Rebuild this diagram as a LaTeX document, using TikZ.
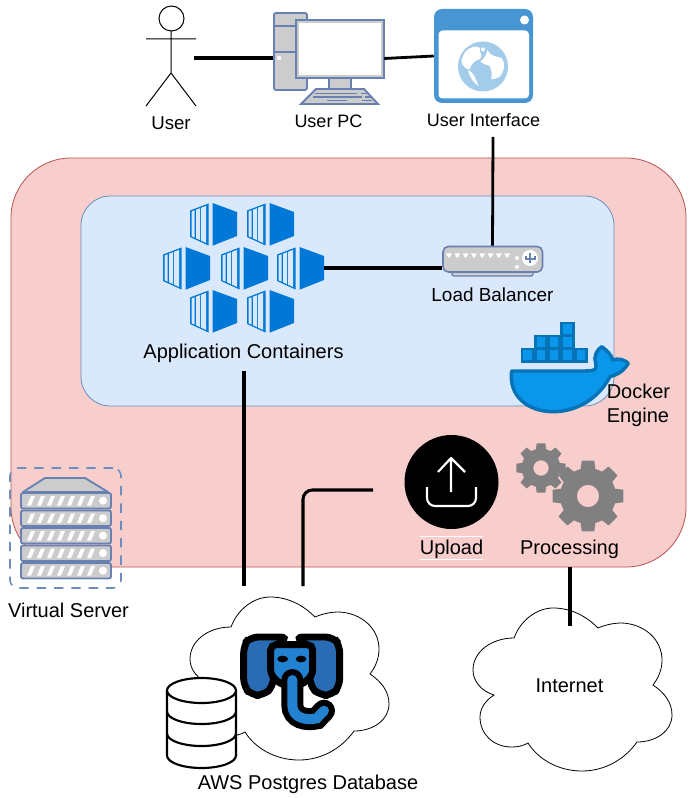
\documentclass[tikz,border=0pt]{standalone}
\usepackage{fontspec}
\setmainfont{Liberation Sans}
\usetikzlibrary{positioning, fit, calc}
\definecolor{Rose}{HTML}{F8CECC}
\definecolor{RoseLine}{HTML}{B85450}
\definecolor{Sky}{HTML}{DAE8FC}
\definecolor{SkyLine}{HTML}{6C8EBF}
\definecolor{Slate}{HTML}{6881B3}
\definecolor{Panel}{HTML}{CCCCCC}
\definecolor{Browser}{HTML}{4796D3}
\definecolor{Globe}{HTML}{A3CBEA}
\definecolor{Azure}{HTML}{0078D7}
\definecolor{Whale}{HTML}{0A96EA}
\definecolor{WhaleLine}{HTML}{0573B6}
\definecolor{Gear}{HTML}{808080}
\definecolor{TuskEar}{HTML}{2A6CB3}
\definecolor{TuskHead}{HTML}{2281D1}

\begin{document}
\begin{tikzpicture}[
      x=0.75pt, y=-0.75pt,
      caption/.style={inner sep=0pt, align=center, font=\fontsize{15}{18}\selectfont, text height=10.5pt, text depth=3pt},
      narrowcaption/.style={caption, font=\fontsize{13.5}{16}\selectfont},
      link/.style={line width=2.3pt, black},
      thinlink/.style={line width=2.1pt, black},
      iconbox/.style={inner sep=0pt, fit={#1}},
      metal/.style={draw=Slate, line width=1.4pt, fill=Panel, rounded corners=1.5pt},
      stickman/.style={line width=0.75pt, black},
      cloudline/.style={draw=black, line width=0.6pt, fill=white},
      drum/.style={draw=black, line width=1.6pt, fill=white},
      pics/container/.style={code={
          \fill[Azure] (0,7.5) -- (18.5,0.5) -- (18.5,42.5) -- (0,34) -- cycle;
          \fill[Azure] (22.5,0) -- (47,9) -- (47,33) -- (22.5,42.7) -- cycle;
          \fill[Sky] (1.5,8.4) -- (4.5,7.3) -- (4.5,34.6) -- (1.5,33.2) -- cycle;
          \fill[Sky] (6,6.7) -- (10,5.2) -- (10,37.1) -- (6,35.3) -- cycle;
          \fill[Sky] (11,4.8) -- (16,2.9) -- (16,39.9) -- (11,37.6) -- cycle;
      }},
      pics/cog/.style={code={
          \fill[Gear, even odd rule] (0,0) circle[radius=0.31]
            (-15:0.78) \foreach \a in {0,45,...,315} {
              -- (\a-15:0.78) -- (\a-10:1) -- (\a+10:1) -- (\a+15:0.78) -- (\a+30:0.78)
            } -- cycle;
      }},
      pics/puff/.style={code={
          \draw[cloudline] (41,31) .. controls (48,12) and (65,1) .. (80,1) .. controls (98,1) and (113,9) .. (125,21)
            .. controls (132,18) and (140,16) .. (149,16) .. controls (172,17) and (189,33) .. (189,53) .. controls (189,62) and (186,70) .. (180,78)
            .. controls (192,86) and (199,96) .. (199,108) .. controls (199,124) and (183,135) .. (164,135)
            .. controls (152,152) and (132,164) .. (109,164) .. controls (85,164) and (65,152) .. (55,136)
            .. controls (50,139) and (44,140) .. (39,140) .. controls (20,140) and (7,127) .. (7,110) .. controls (7,101) and (13,93) .. (21,88)
            .. controls (8,84) and (0,74) .. (0,63) .. controls (0,45) and (18,31) .. (41,31) -- cycle;
      }},
  ]
  \useasboundingbox (0,0) rectangle (691,798);

  % Zones
  \node[draw=RoseLine, fill=Rose, line width=0.6pt, rounded corners=45pt, inner sep=0pt, fit={(11,158) (686,567)}] (vm) {};
  \node[draw=SkyLine, fill=Sky, line width=0.6pt, rounded corners=22pt, inner sep=0pt, fit={(81,196) (614,406)}] (swarm) {};

  % User
  \node[iconbox={(146,10) (196,106)}] (user) {};
  \draw[stickman] (171.5,18.5) circle[radius=12.5];
  \draw[stickman] (171,31) -- (171,73) -- (146,106) (171,73) -- (196,106) (146,39) -- (196,39);
  \node[narrowcaption, font=\fontsize{14}{17}\selectfont, below=7pt of user] (userlabel) {User};

  % User PC
  \node[iconbox={(273,13) (384,104)}] (pc) {};
  \draw[metal] (274,13) rectangle (307,90);
  \draw[draw=Slate, line width=1.4pt] (274,26) -- (307,26) (274,52) -- (307,52);
  \fill[white] (279,58) circle[radius=2.2];
  \draw[metal, rounded corners=0pt] (296,20) rectangle (384,78);
  \fill[white] (299,23) rectangle (381,75);
  \draw[metal, rounded corners=0pt] (329,78) rectangle (351,89);
  \draw[metal, rounded corners=0pt] (316,89) -- (364,89) -- (378,104) -- (301,104) -- cycle;
  \draw[draw=Slate, line width=1.3pt] (315,93.5) -- (357,93.5) (361,93.5) -- (369,93.5) (313,97) -- (362,97) (365,97) -- (371,97) (327,100.5) -- (347,100.5) (362,100.5) -- (372,100.5);
  \node[narrowcaption, below=6.5pt of pc] (pclabel) {User PC};

  % User Interface
  \node[iconbox={(434,9) (533,103)}] (ui) {};
  \fill[Browser, rounded corners=6pt] (434,9) rectangle (533,103);
  \fill[white, rounded corners=3pt] (438.5,30.5) rectangle (529,98.5);
  \fill[white] (524.5,20) circle[radius=4.5];
  \fill[Globe] (483,66.5) circle[radius=25];
  \begin{scope}[shift={(453,36)}, x=0.25pt, y=-0.25pt]
    \fill[white] (35,50) .. controls (50,32) and (70,28) .. (80,35) .. controls (78,50) and (92,60) .. (80,70) .. controls (65,72) and (55,85) .. (50,100) .. controls (38,100) and (28,90) .. (25,75) .. controls (27,65) and (30,57) .. (35,50) -- cycle;
    \fill[white] (90,40) circle[radius=6];
    \fill[white] (103,42) .. controls (112,60) and (130,62) .. (146,66) .. controls (158,85) and (155,105) .. (140,122) .. controls (130,128) and (122,130) .. (115,130) .. controls (118,115) and (115,100) .. (110,90) .. controls (100,85) and (90,85) .. (82,76) .. controls (92,70) and (100,60) .. (103,42) -- cycle;
    \fill[white] (45,102) .. controls (60,105) and (70,130) .. (76,150) .. controls (62,140) and (50,125) .. (45,102) -- cycle;
  \end{scope}
  \node[narrowcaption, below=6.5pt of ui.south] (uilabel) {User Interface};

  % Containers
  \node[iconbox={(163,203) (324,333)}] (containers) {};
  \foreach \cx/\cy in {190/203, 247/203, 163/247, 221/247, 277/247, 190/290, 247/290}
    \pic at (\cx,\cy) {container};
  \node[caption, below=8pt of containers] (containerslabel) {Application Containers};

  % Load Balancer
  \node[iconbox={(442,246) (543,276)}] (balancer) {};
  \draw[metal, line width=1pt] (452,271) rectangle (533,276);
  \draw[metal, line width=1.2pt, rounded corners=4pt] (443,246.5) rectangle (542.5,272);
  \foreach \hx in {449,457.3,...,508}
    \fill[white] (\hx-2.8,253.5) -- (\hx+2.8,253.5) -- (\hx+1.5,256) -- (\hx,258) -- (\hx-1.5,256) -- cycle;
  \fill[white] (517,258) circle[radius=2] (517,267) circle[radius=2] (530,258) circle[radius=8];
  \draw[Slate, line width=1.5pt] (530,253.5) -- (530,263) (525.5,256) -- (525.5,259) -- (534.5,259) -- (534.5,256);
  \node[caption, font=\fontsize{14.2}{17}\selectfont, below=8.5pt of balancer.south] (balancerlabel) {Load Balancer};

  % Docker
  \begin{scope}[shift={(430,235)}, x=0.25pt, y=-0.25pt]
    \draw[draw=WhaleLine, fill=Whale, line width=2.6pt, line join=round] (245,408) -- (465,408) .. controls (500,408) and (500,400) .. (497,385) .. controls (490,365) and (500,345) .. (515,335) .. controls (530,345) and (545,360) .. (548,375) .. controls (565,368) and (585,375) .. (595,385) .. controls (580,410) and (560,420) .. (540,425) .. controls (500,500) and (430,530) .. (370,530) .. controls (290,530) and (235,480) .. (245,408) -- cycle;
  \end{scope}
  \foreach \bx/\by in {521/348, 534.3/348, 547.6/348, 560.9/348, 574.2/348, 534.3/335, 547.6/335, 560.9/335, 560.9/322}
    \draw[draw=WhaleLine, fill=Whale, line width=2.2pt] (\bx+1,\by+1) rectangle (\bx+12.3,\by+13.3);
  \node[caption, anchor=north west] (docker) at (606.5,384) {Docker};
  \node[caption, below=4.5pt of docker.south west, anchor=north west] (engine) {Engine};

  % Upload
  \node[circle, fill=black, inner sep=0pt, minimum size=70.5pt] (upload) at (451.5,482) {};
  \draw[white, line width=1.6pt, line join=round] (451,492) -- (451,458) (438,472) -- (451,458) -- (465,472);
  \draw[white, line width=1.6pt, rounded corners=6pt] (427,487) -- (427,506) -- (476,506) -- (476,487);
  \node[caption, below=5.25pt of upload, text height=13.5pt, text depth=3.75pt, minimum width=47pt] (uploadlabel) {Upload};
  \draw[white, line width=0.75pt] (uploadlabel.north west) -- (uploadlabel.north east) (uploadlabel.south west) -- (uploadlabel.south east);

  % Processing
  \pic[scale=25] at (541,468) {cog};
  \pic[scale=36] at (588,496) {cog};
  \node[caption] (processing) at (569.5,549) {Processing};

  % Virtual Server
  \node[iconbox={(10,468) (121,588)}, draw=SkyLine, dash pattern=on 7pt off 6pt, line width=1.2pt, rounded corners=6pt] (server) {};
  \draw[metal, rounded corners=0pt, line join=round] (23,492) -- (45,478) -- (85,478) -- (108,492) -- cycle;
  \foreach \sy in {493, 510.5, 528, 545.5, 563} {
    \draw[metal] (21,\sy) rectangle (111,\sy+15.5);
    \foreach \sx in {26,36,...,86}
      \fill[white] (\sx+1,\sy+12.5) -- (\sx+5,\sy+3) -- (\sx+9,\sy+3) -- (\sx+5,\sy+12.5) -- cycle;
    \fill[white] (103,\sy+7.7) circle[radius=4];
  }
  \node[caption] (serverlabel) at (68.5,612) {Virtual Server};

  % Database
  \node[iconbox={(190,596) (392,760)}] (database) {};
  \pic at (190,596) {puff};
  \begin{scope}[shift={(160,590)}, x=0.25pt, y=-0.25pt]
    \draw[black, fill=TuskEar, line width=5.2pt, rounded corners=6pt] (385,141) -- (270,141) -- (251,165) -- (251,290) -- (275,316) -- (310,316) -- (340,290) -- (340,170) -- cycle;
    \draw[black, fill=TuskEar, line width=5.2pt, rounded corners=6pt] (405,141) -- (520,141) -- (539,165) -- (539,290) -- (515,316) -- (480,316) -- (450,290) -- (450,170) -- cycle;
    \draw[black, fill=TuskHead, line width=5.2pt, rounded corners=4pt] (332,164) -- (458,164) -- (458,255) -- (425,285) -- (365,285) -- (332,255) -- cycle;
    \draw[black, line width=16.5pt, line cap=round] (397,270) -- (397,345) .. controls (397,385) and (440,392) .. (470,385) -- (492,362);
    \draw[TuskHead, line width=7.5pt, line cap=round] (397,270) -- (397,345) .. controls (397,385) and (440,392) .. (470,385) -- (492,362);
    \fill[black] (368,207) ellipse[x radius=16, y radius=10] (423,207) ellipse[x radius=16, y radius=10];
  \end{scope}
  \draw[drum] (167,690.5) -- (167,755.5) arc[start angle=180, end angle=0, x radius=34.5, y radius=12.5] -- (236,690.5);
  \draw[drum] (201.5,690.5) ellipse[x radius=34.5, y radius=12.5];
  \draw[drum, fill=none] (167,711.5) arc[start angle=180, end angle=0, x radius=34.5, y radius=12.5];
  \draw[drum, fill=none] (167,733.5) arc[start angle=180, end angle=0, x radius=34.5, y radius=12.5];
  \node[caption] (databaselabel) at (308,784) {AWS Postgres Database};

  % Internet
  \node[iconbox={(473,607) (672,771)}] (internet) {};
  \pic at (473,607) {puff};
  \node[caption] (internetlabel) at (569.5,687) {Internet};

  % Ends of the links
  \coordinate (userhand) at (194,58);
  \coordinate (uidrop) at (493,137);
  \coordinate (appdrop) at (244,371);
  \coordinate (dbport) at (244,586);
  \coordinate (uploadport) at (303,586);
  \coordinate (uploadtail) at (373,490);
  \coordinate (procfoot) at (570,567);
  \coordinate (netport) at (570,626);

  % Links
  \draw[link] (userhand) -- (pc.west |- userhand);
  \draw[thinlink] (pc.east) -- (ui.west);
  \draw[thinlink] (uidrop) -- (balancer.north);
  \draw[link] (containers.east) -- (containers.east -| balancer.west);
  \draw[link] (appdrop) -- (dbport);
  \draw[link, rounded corners=7pt] (uploadport) |- (uploadtail);
  \draw[link] (procfoot) -- (netport);

  \end{tikzpicture}
\end{document}
